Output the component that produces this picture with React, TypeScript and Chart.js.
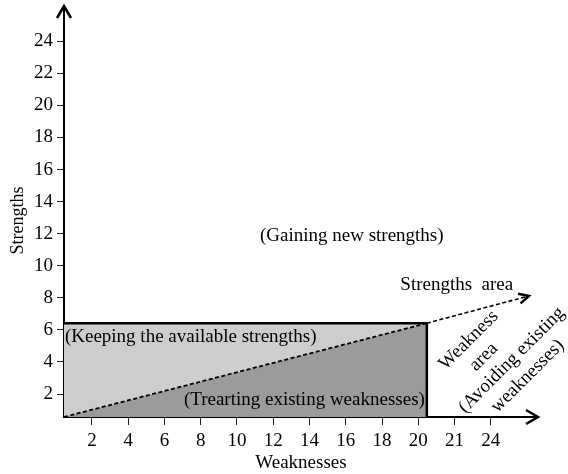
import React, { useEffect, useRef } from 'react';
import { Chart, registerables } from 'chart.js';

Chart.register(...registerables);

// ---- data ----
const xRange = [0.46, 26.6];
const yRange = [0.57, 26.2];
const xTickValues = [2, 4, 6, 8, 10, 12, 14, 16, 18, 20, 22, 24];
const xTickLabels = ['2', '4', '6', '8', '10', '12', '14', '16', '18', '20', '21', '24'];
const yTickValues = [2, 4, 6, 8, 10, 12, 14, 16, 18, 20, 22, 24];

const strengthsTop = [{ x: 0.46, y: 6.42 }, { x: 20.47, y: 6.42 }];
const weaknessDiagonal = [{ x: 0.46, y: 0.57 }, { x: 20.47, y: 6.42 }];
const rectRightEdge = [{ x: 20.47, y: 6.42 }, { x: 20.47, y: 0.57 }];
const strengthsArrow = [{ x: 20.47, y: 6.42 }, { x: 26.1, y: 8.12 }];

const annotationTexts = [
  '(Gaining new strengths)',
  'Strengths  area',
  '(Keeping the available strengths)',
  '(Trearting existing weaknesses)',
];
const annotationX = [16.33, 22.12, 0.51, 20.36];
const annotationY = [11.84, 8.79, 5.55, 1.63];
const annotationAlign = ['center', 'center', 'left', 'right'];

const rotatedLines = ['Weakness', 'area', '(Avoiding existing', 'weaknesses)'];
const rotatedX = [22.78, 23.61, 25.15, 26.03];
const rotatedY = [5.36, 4.31, 4.12, 3.12];

const FONT = "'Liberation Serif', 'Times New Roman', serif";

function chevron(ctx: CanvasRenderingContext2D, x: number, y: number, angle: number, len: number, half: number, lw: number) {
  ctx.save();
  ctx.translate(x, y);
  ctx.rotate(angle);
  ctx.beginPath();
  ctx.moveTo(-len, -half);
  ctx.lineTo(0, 0);
  ctx.lineTo(-len, half);
  ctx.lineWidth = lw;
  ctx.strokeStyle = '#000';
  ctx.lineJoin = 'miter';
  ctx.stroke();
  ctx.restore();
}

const decorPlugin = {
  id: 'decor',
  afterDraw(chart: any) {
    const { ctx, chartArea, scales } = chart;
    const xs = scales.x;
    const ys = scales.y;
    ctx.save();
    // axis arrows
    chevron(ctx, chartArea.right, chartArea.bottom, 0, 12, 7, 2.5);
    chevron(ctx, chartArea.left, chartArea.top, -Math.PI / 2, 12, 7, 2.5);
    // strengths area arrow
    const p0 = strengthsArrow[0];
    const p1 = strengthsArrow[strengthsArrow.length - 1];
    const ax0 = xs.getPixelForValue(p0.x), ay0 = ys.getPixelForValue(p0.y);
    const ax1 = xs.getPixelForValue(p1.x), ay1 = ys.getPixelForValue(p1.y);
    chevron(ctx, ax1, ay1, Math.atan2(ay1 - ay0, ax1 - ax0), 10, 5, 2.5);

    ctx.fillStyle = '#000';
    ctx.font = `19px ${FONT}`;
    ctx.textBaseline = 'middle';
    annotationTexts.forEach((t, i) => {
      ctx.textAlign = annotationAlign[i] as CanvasTextAlign;
      ctx.fillText(t, xs.getPixelForValue(annotationX[i]), ys.getPixelForValue(annotationY[i]));
    });
    rotatedLines.forEach((t, i) => {
      ctx.save();
      ctx.translate(xs.getPixelForValue(rotatedX[i]), ys.getPixelForValue(rotatedY[i]));
      ctx.rotate(-Math.PI / 4);
      ctx.textAlign = 'center';
      ctx.fillText(t, 0, 0);
      ctx.restore();
    });
    ctx.restore();
  },
};

export default function App() {
  const ref = useRef<HTMLCanvasElement | null>(null);
  useEffect(() => {
    if (!ref.current) return;
    const chart = new Chart(ref.current, {
      type: 'line',
      data: {
        datasets: [
          {
            data: rectRightEdge,
            borderColor: '#000',
            borderWidth: 2.5,
            pointRadius: 0,
            fill: false,
            order: 0,
          },
          {
            data: strengthsArrow,
            borderColor: '#000',
            borderWidth: 1.6,
            borderDash: [4, 2.5],
            pointRadius: 0,
            fill: false,
            order: 0,
            clip: false,
          },
          {
            data: weaknessDiagonal,
            borderColor: '#000',
            borderWidth: 1.8,
            borderDash: [4, 2.5],
            backgroundColor: '#9b9b9b',
            pointRadius: 0,
            fill: 'origin',
            order: 1,
          },
          {
            data: strengthsTop,
            borderColor: '#000',
            borderWidth: 2.5,
            backgroundColor: '#cdcdcd',
            pointRadius: 0,
            fill: 'origin',
            order: 2,
          },
        ] as any,
      },
      options: {
        animation: false,
        responsive: true,
        maintainAspectRatio: false,
        layout: { padding: { top: 6, right: 30, left: 0, bottom: 0 } },
        plugins: { legend: { display: false }, tooltip: { enabled: false } },
        scales: {
          x: {
            type: 'linear',
            min: xRange[0],
            max: xRange[1],
            border: { display: true, color: '#000', width: 2 },
            grid: { display: true, drawOnChartArea: false, drawTicks: true, tickLength: 8, color: '#222', lineWidth: 1 },
            afterBuildTicks: (scale: any) => {
              scale.ticks = xTickValues.map((v) => ({ value: v }));
            },
            afterFit: (scale: any) => {
              scale.height = 57;
              scale.paddingLeft = 0;
              scale.paddingRight = 0;
            },
            ticks: {
              autoSkip: false,
              maxRotation: 0,
              padding: 5,
              color: '#000',
              font: { family: FONT, size: 19 },
              callback: (v: any) => {
                const i = xTickValues.indexOf(Number(v));
                return i >= 0 ? xTickLabels[i] : '';
              },
            },
            title: {
              display: true,
              text: 'Weaknesses',
              color: '#000',
              font: { family: FONT, size: 19 },
              padding: { top: 0, bottom: 0 },
            },
          },
          y: {
            type: 'linear',
            min: yRange[0],
            max: yRange[1],
            border: { display: true, color: '#000', width: 2 },
            grid: { display: true, drawOnChartArea: false, drawTicks: true, tickLength: 7, color: '#222', lineWidth: 1 },
            afterBuildTicks: (scale: any) => {
              scale.ticks = yTickValues.map((v) => ({ value: v }));
            },
            afterFit: (scale: any) => {
              scale.width = 64;
              scale.paddingTop = 0;
              scale.paddingBottom = 0;
            },
            ticks: {
              autoSkip: false,
              padding: 4,
              color: '#000',
              font: { family: FONT, size: 19 },
              callback: (v: any) => String(v),
            },
            title: {
              display: true,
              text: 'Strengths    ',
              color: '#000',
              font: { family: FONT, size: 18 },
              padding: { top: 7, bottom: 0 },
            },
          },
        },
      } as any,
      plugins: [decorPlugin],
    });
    return () => chart.destroy();
  }, []);
  return (
    <div style={{ position: 'absolute', left: 0, top: 0, width: 568, height: 474 }}>
      <canvas ref={ref} />
    </div>
  );
}
